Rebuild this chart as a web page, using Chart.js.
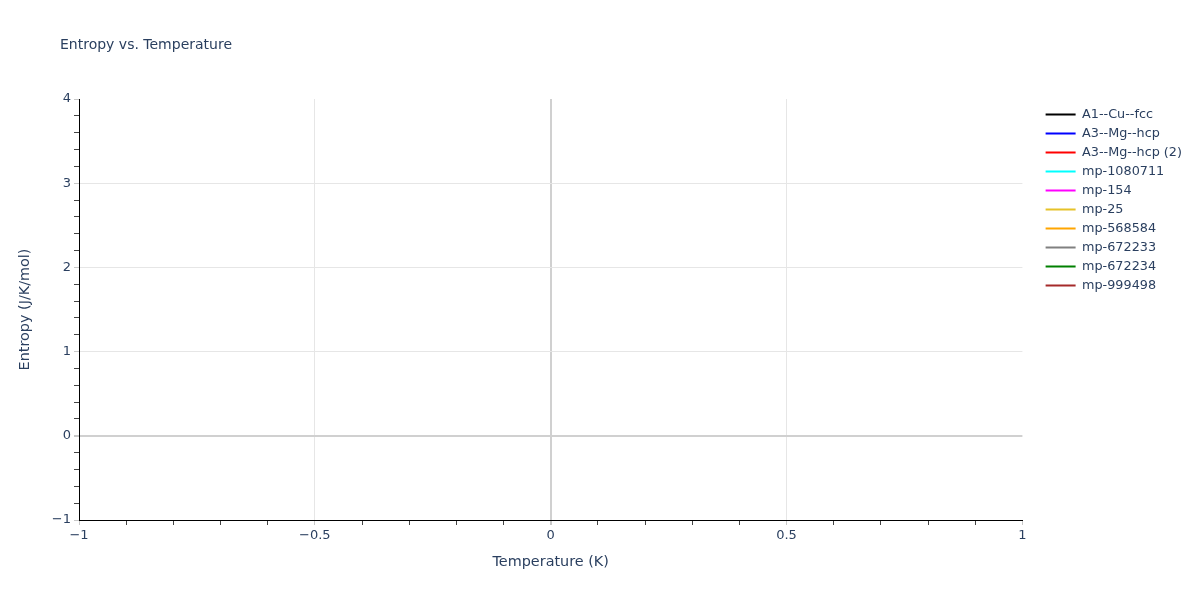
<!DOCTYPE html>
<html>
<head>
<meta charset="utf-8">
<script src="https://cdn.jsdelivr.net/npm/chart.js@4"></script>
<style>
  html, body { margin: 0; padding: 0; background: #fff; }
  #chart { display: block; }
</style>
</head>
<body>
<canvas id="chart" width="1200" height="600"></canvas>
<script>
// Series (the source figure has no points in any of them)
const seriesNames = [
    'A1--Cu--fcc', 'A3--Mg--hcp', 'A3--Mg--hcp (2)', 'mp-1080711', 'mp-154',
    'mp-25', 'mp-568584', 'mp-672233', 'mp-672234', 'mp-999498'
];
const seriesColors = [
    '#000000', '#0000ff', '#ff0000', '#00ffff', '#ff00ff',
    '#e6c229', '#ffa500', '#808080', '#008000', '#a52a2a'
];
const seriesValues = [[], [], [], [], [], [], [], [], [], []];

// Axis ranges
const xRange = [-1, 1];
const yRange = [-1, 4];
const xMajor = 0.5;
const yMajor = 1;

const textColor = '#2a3f5f';
const fontFamily = '"DejaVu Sans", verdana, arial, sans-serif';

function isMajor(v, step) {
    const r = v / step;
    return Math.abs(r - Math.round(r)) < 1e-6;
}

function fmt(v) {
    const n = Math.round(v * 100) / 100;
    return String(n).replace('-', '\u2212');
}

function gridColor(ctx, step, range) {
    const v = ctx.tick.value;
    if (!isMajor(v, step)) return 'rgba(0,0,0,0)';
    if (Math.abs(v - range[0]) < 1e-6 || Math.abs(v - range[1]) < 1e-6) return 'rgba(0,0,0,0)';
    if (Math.abs(v) < 1e-6) return '#d0d0d0';
    return '#e6e6e6';
}

// Chart title, drawn as text at top-left like the source
const titlePlugin = {
    id: 'plotTitle',
    afterDraw(chart) {
        const c = chart.ctx;
        c.save();
        c.font = '14px ' + fontFamily;
        c.fillStyle = textColor;
        c.textBaseline = 'middle';
        c.textAlign = 'left';
        c.fillText('Entropy vs. Temperature', 60, 45);
        c.restore();
    }
};

const datasets = seriesNames.map((name, i) => ({
    label: name,
    data: seriesValues[i],
    borderColor: seriesColors[i],
    backgroundColor: seriesColors[i],
    borderWidth: 2,
    pointRadius: 0,
    pointStyle: 'line'
}));

new Chart(document.getElementById('chart'), {
    type: 'line',
    data: { datasets },
    plugins: [titlePlugin],
    options: {
        responsive: false,
        animation: false,
        layout: { padding: { top: 99, right: 8, bottom: 0, left: 0 } },
        plugins: {
            title: { display: false },
            tooltip: { enabled: false },
            legend: {
                position: 'right',
                align: 'start',
                // tiny empty title just nudges the items down a few pixels
                title: { display: true, text: ' ', font: { size: 2.5 }, padding: 0 },
                labels: {
                    usePointStyle: true,
                    pointStyleWidth: 30,
                    padding: 6.2,
                    color: textColor,
                    font: { family: fontFamily, size: 12.8 }
                }
            }
        },
        scales: {
            x: {
                type: 'linear',
                min: xRange[0],
                max: xRange[1],
                afterFit: s => { s.height = 80; },
                border: { color: '#000', width: 1 },
                grid: {
                    color: ctx => gridColor(ctx, xMajor, xRange),
                    lineWidth: ctx => Math.abs(ctx.tick.value) < 1e-6 ? 2 : 1,
                    tickColor: ctx => isMajor(ctx.tick.value, xMajor) ? '#c8c8c8' : '#444',
                    tickLength: 5
                },
                ticks: {
                    stepSize: 0.1,
                    autoSkip: false,
                    maxRotation: 0,
                    padding: 3,
                    color: textColor,
                    font: { family: fontFamily, size: 13 },
                    callback: v => isMajor(v, xMajor) ? fmt(v) : ''
                },
                title: {
                    display: true,
                    text: 'Temperature (K)',
                    color: textColor,
                    font: { family: fontFamily, size: 14.4 },
                    padding: 29
                }
            },
            y: {
                type: 'linear',
                min: yRange[0],
                max: yRange[1],
                afterFit: s => { s.width = 79; },
                border: { color: '#000', width: 1 },
                grid: {
                    color: ctx => gridColor(ctx, yMajor, yRange),
                    lineWidth: ctx => Math.abs(ctx.tick.value) < 1e-6 ? 2 : 1,
                    tickColor: ctx => isMajor(ctx.tick.value, yMajor) ? '#c8c8c8' : '#444',
                    tickLength: 5
                },
                ticks: {
                    stepSize: 0.2,
                    autoSkip: false,
                    padding: 3,
                    color: textColor,
                    font: { family: fontFamily, size: 13 },
                    callback: v => isMajor(v, yMajor) ? fmt(v) : ''
                },
                title: {
                    display: true,
                    text: 'Entropy (J/K/mol)',
                    color: textColor,
                    font: { family: fontFamily, size: 14.4 },
                    padding: 17
                }
            },
            spacer: {
                type: 'linear',
                position: 'right',
                display: true,
                afterFit: s => { s.width = 17; },
                border: { display: false },
                grid: { display: false, drawTicks: false },
                ticks: { display: false }
            }
        }
    }
});
</script>
</body>
</html>
